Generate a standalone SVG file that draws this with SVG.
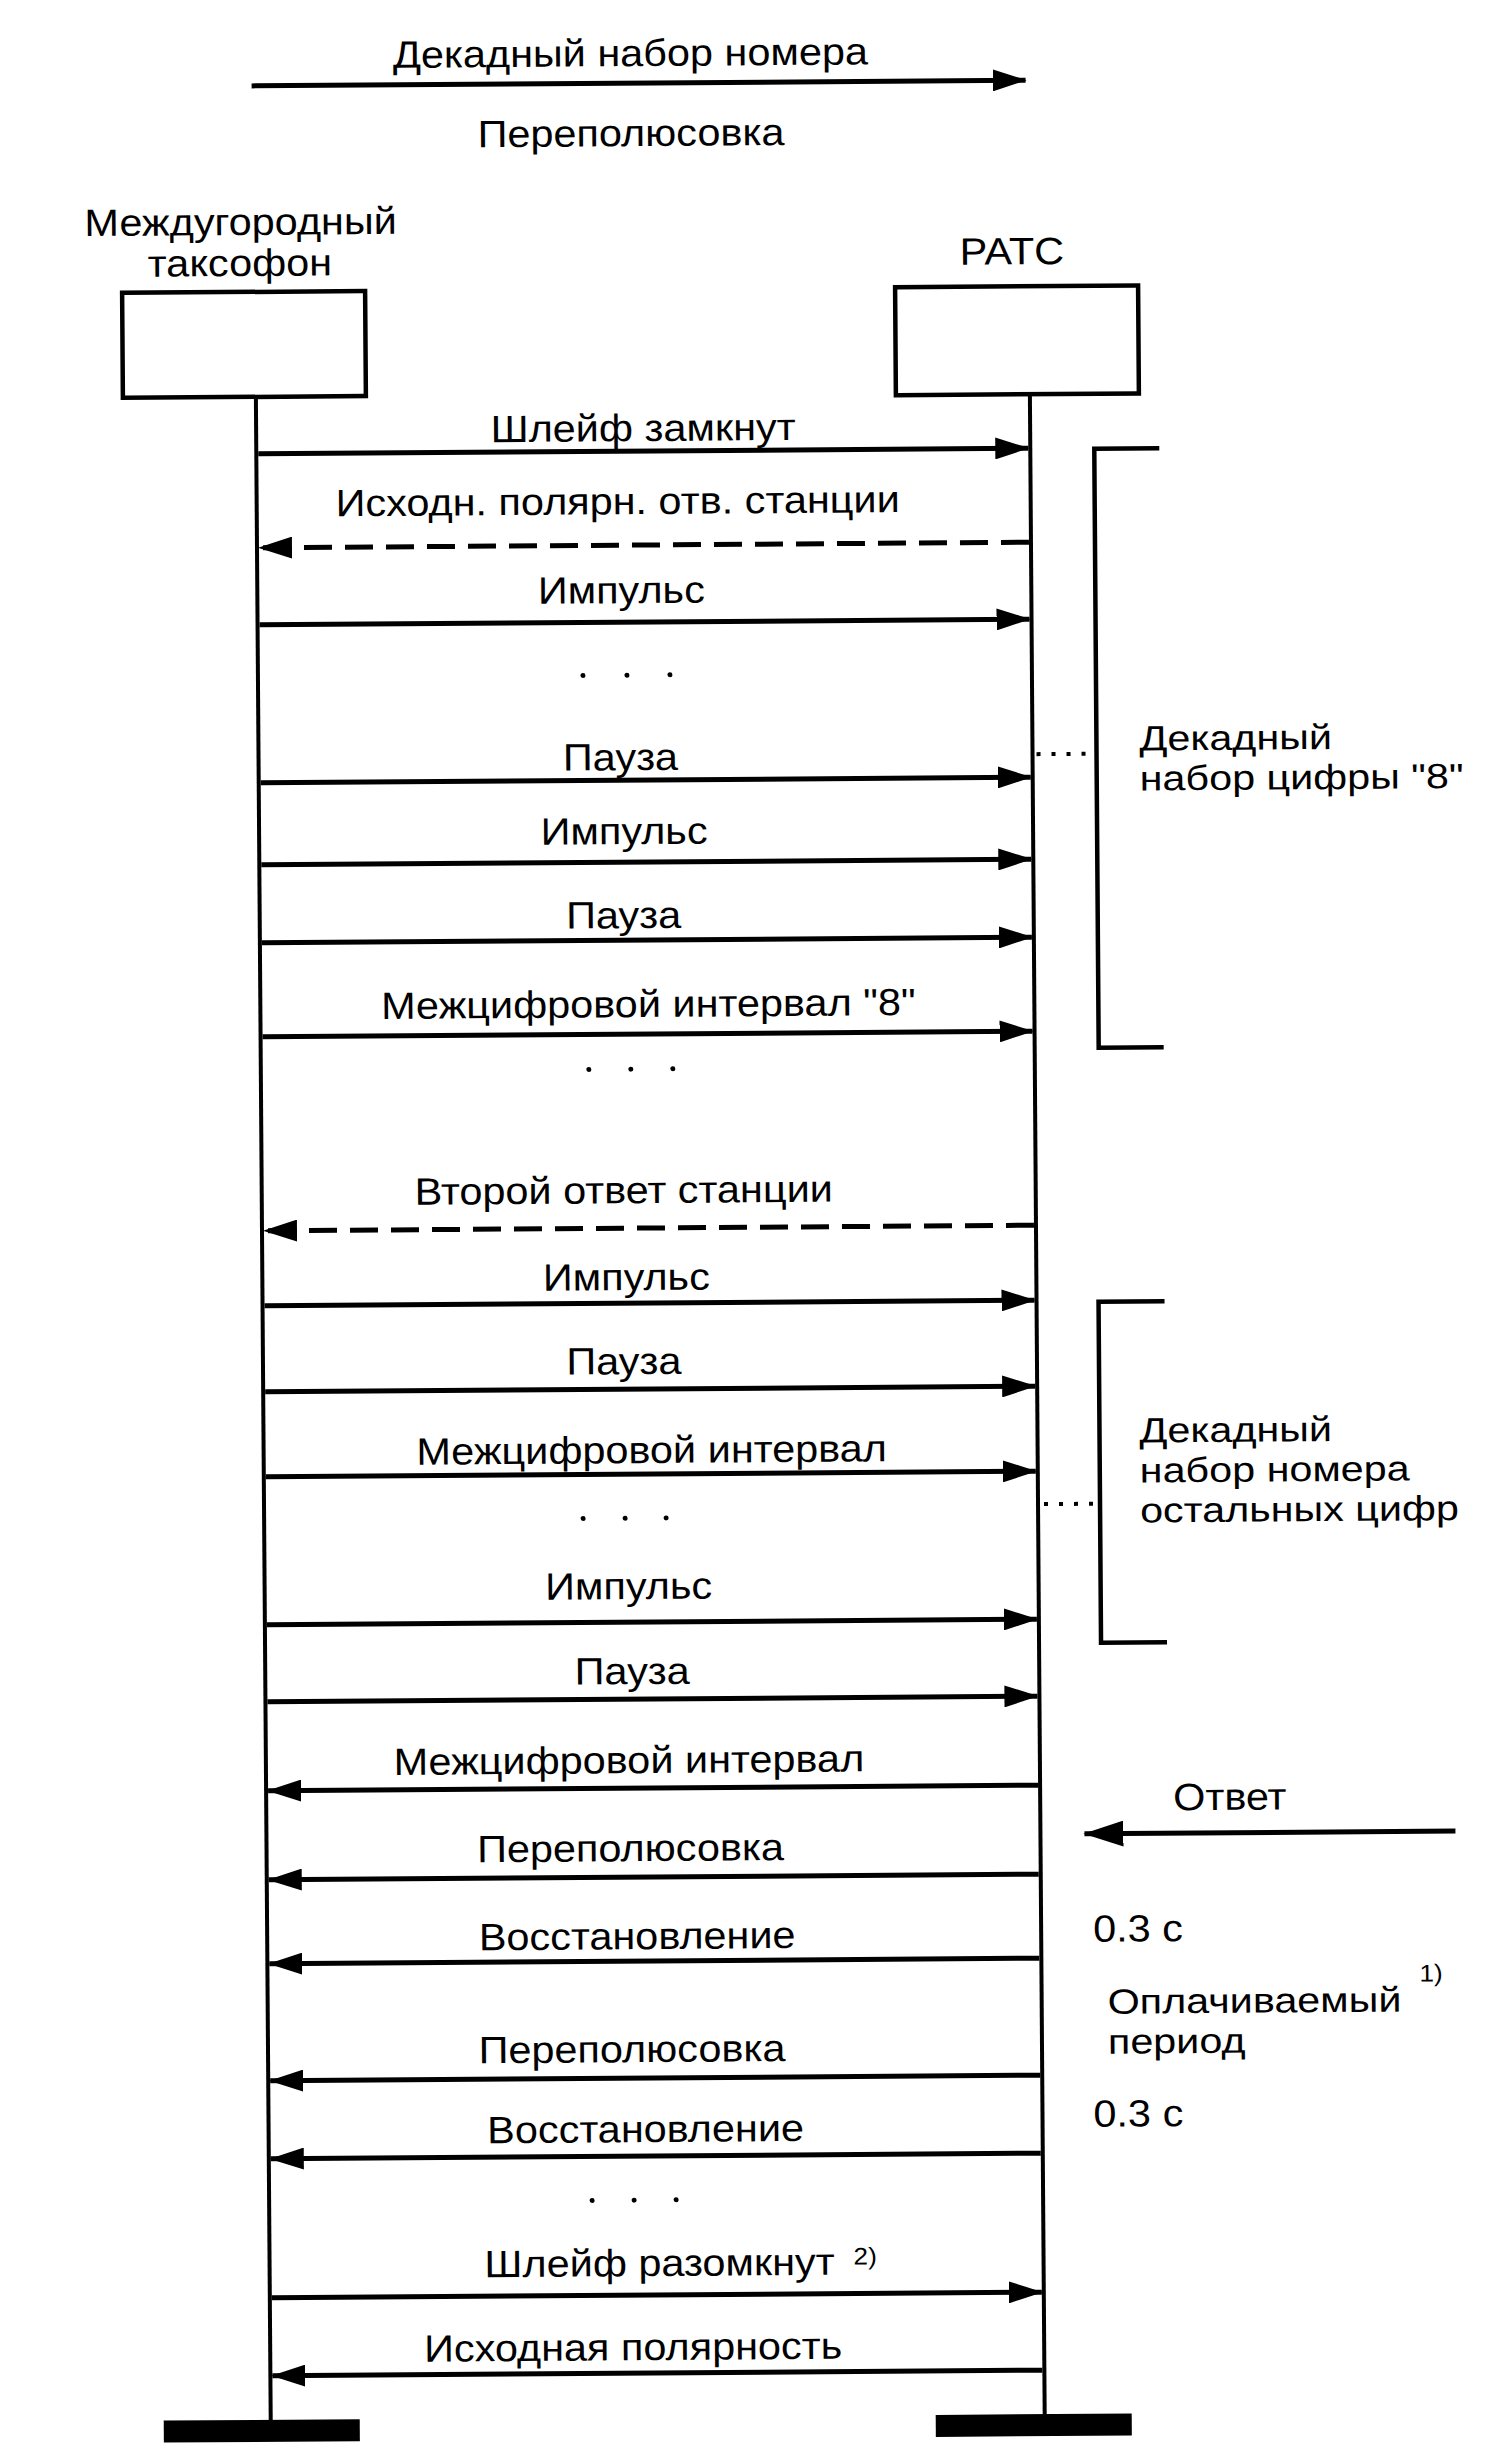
<svg xmlns="http://www.w3.org/2000/svg" width="1491" height="2458" viewBox="0 0 1491 2458">
<style>
text{font-family:"Liberation Sans",Arial,Helvetica,sans-serif;font-size:38px;fill:#000}
.c{text-anchor:middle}
.s{text-anchor:start}
.sup{font-size:24px}
.ml{font-size:35px}
.box{fill:#fff;stroke:#000;stroke-width:4.5}
.life{stroke:#000;stroke-width:4;fill:none}
.msg{stroke:#000;stroke-width:5;fill:none;marker-end:url(#ah)}
.dash{stroke-dasharray:28 13}
.big{marker-end:url(#ah2)}
.br{stroke:#000;stroke-width:4.5;fill:none}
.dot{stroke:#000;stroke-width:4;stroke-dasharray:4 11;fill:none}
.bar{fill:#000}
.pt{fill:#000}
</style>
<defs>
<marker id="ah" markerUnits="userSpaceOnUse" viewBox="0 0 34 22" refX="33" refY="11" markerWidth="34" markerHeight="22" orient="auto"><path d="M0,0 L34,11 L0,22 Z" fill="#000"/></marker>
<marker id="ah2" markerUnits="userSpaceOnUse" viewBox="0 0 40 26" refX="39" refY="13" markerWidth="40" markerHeight="26" orient="auto"><path d="M0,0 L40,13 L0,26 Z" fill="#000"/></marker>
</defs>
<rect width="1491" height="2458" fill="#fff"/>
<g transform="rotate(-0.42 650 1230)">

<g id="legend">
<text class="c" transform="translate(639 66) scale(1.09 1)">Декадный набор номера</text>
<line class="msg" x1="260" y1="83" x2="1034" y2="83"/>
<text class="c" transform="translate(639 146) scale(1.09 1)">Переполюсовка</text>
</g>

<g id="node-taxofon">
<text class="c" transform="translate(248 232) scale(1.09 1)">Междугородный</text>
<text class="c" transform="translate(247 273) scale(1.09 1)">таксофон</text>
<rect class="box" x="129" y="289" width="243" height="105"/>
<line class="life" x1="262" y1="394" x2="262" y2="2418"/>
<rect class="bar" x="155" y="2417" width="196" height="22"/>
</g>

<g id="node-ratc">
<text class="c" transform="translate(1019 267) scale(1.09 1)">РАТС</text>
<rect class="box" x="902" y="289" width="243" height="108"/>
<line class="life" x1="1036" y1="397" x2="1036" y2="2418"/>
<rect class="bar" x="927" y="2417" width="196" height="22"/>
</g>

<g id="connectors">
<line class="msg" x1="264" y1="451" x2="1034" y2="451"/>
<line class="msg dash" x1="1034" y1="545" x2="264" y2="545"/>
<line class="msg" x1="264" y1="622" x2="1034" y2="622"/>
<line class="msg" x1="264" y1="780" x2="1034" y2="780"/>
<line class="msg" x1="264" y1="862" x2="1034" y2="862"/>
<line class="msg" x1="264" y1="940" x2="1034" y2="940"/>
<line class="msg" x1="264" y1="1034" x2="1034" y2="1034"/>
<line class="msg dash" x1="1034" y1="1228" x2="264" y2="1228"/>
<line class="msg" x1="264" y1="1303" x2="1034" y2="1303"/>
<line class="msg" x1="264" y1="1389" x2="1034" y2="1389"/>
<line class="msg" x1="264" y1="1474" x2="1034" y2="1474"/>
<line class="msg" x1="264" y1="1622" x2="1034" y2="1622"/>
<line class="msg" x1="264" y1="1699" x2="1034" y2="1699"/>
<line class="msg" x1="1034" y1="1788" x2="264" y2="1788"/>
<line class="msg" x1="1034" y1="1877" x2="264" y2="1877"/>
<line class="msg" x1="1034" y1="1961" x2="264" y2="1961"/>
<line class="msg" x1="1034" y1="2078" x2="264" y2="2078"/>
<line class="msg" x1="1034" y1="2156" x2="264" y2="2156"/>
<line class="msg" x1="264" y1="2295" x2="1034" y2="2295"/>
<line class="msg" x1="1034" y1="2373" x2="264" y2="2373"/>
<line class="msg big" x1="1451" y1="1837" x2="1080" y2="1837"/>
</g>

<g id="labels">
<text class="c" transform="translate(649 441) scale(1.09 1)">Шлейф замкнут</text>
<text class="c" transform="translate(623 514) scale(1.09 1)">Исходн. полярн. отв. станции</text>
<text class="c" transform="translate(626 603) scale(1.09 1)">Импульс</text>
<text class="c" transform="translate(624 770) scale(1.09 1)">Пауза</text>
<text class="c" transform="translate(627 844) scale(1.09 1)">Импульс</text>
<text class="c" transform="translate(626 928) scale(1.09 1)">Пауза</text>
<text class="c" transform="translate(650 1017) scale(1.09 1)">Межцифровой интервал "8"</text>
<text class="c" transform="translate(624 1203) scale(1.09 1)">Второй ответ станции</text>
<text class="c" transform="translate(626 1290) scale(1.09 1)">Импульс</text>
<text class="c" transform="translate(623 1374) scale(1.09 1)">Пауза</text>
<text class="c" transform="translate(650 1463) scale(1.09 1)">Межцифровой интервал</text>
<text class="c" transform="translate(626 1599) scale(1.09 1)">Импульс</text>
<text class="c" transform="translate(629 1684) scale(1.09 1)">Пауза</text>
<text class="c" transform="translate(625 1773) scale(1.09 1)">Межцифровой интервал</text>
<text class="c" transform="translate(626 1861) scale(1.09 1)">Переполюсовка</text>
<text class="c" transform="translate(632 1949) scale(1.09 1)">Восстановление</text>
<text class="c" transform="translate(626 2062) scale(1.09 1)">Переполюсовка</text>
<text class="c" transform="translate(639 2142) scale(1.09 1)">Восстановление</text>
<text class="c" transform="translate(652 2276) scale(1.09 1)">Шлейф разомкнут</text>
<text class="s sup" transform="translate(846 2266) scale(1.09 1)">2)</text>
<text class="c" transform="translate(625 2360) scale(1.09 1)">Исходная полярность</text>
</g>

<g id="ellipses">
<circle class="pt" cx="587" cy="675" r="2.5"/><circle class="pt" cx="631" cy="675" r="2.5"/><circle class="pt" cx="674" cy="675" r="2.5"/>
<circle class="pt" cx="590" cy="1069" r="2.5"/><circle class="pt" cx="632" cy="1069" r="2.5"/><circle class="pt" cx="674" cy="1069" r="2.5"/>
<circle class="pt" cx="581" cy="1518" r="2.5"/><circle class="pt" cx="623" cy="1518" r="2.5"/><circle class="pt" cx="664" cy="1518" r="2.5"/>
<circle class="pt" cx="585" cy="2200" r="2.5"/><circle class="pt" cx="627" cy="2200" r="2.5"/><circle class="pt" cx="669" cy="2200" r="2.5"/>
</g>

<g id="bracket-digit8">
<path class="br" d="M1165,452 H1100 V1051 H1165"/>
<line class="dot" x1="1040" y1="757" x2="1098" y2="757"/>
<text class="s ml" transform="translate(1143 754) scale(1.18 1)">Декадный</text>
<text class="s ml" transform="translate(1143 794) scale(1.18 1)">набор цифры "8"</text>
</g>

<g id="bracket-rest">
<path class="br" d="M1164,1305 H1098 V1646 H1164"/>
<line class="dot" x1="1042" y1="1507" x2="1096" y2="1507"/>
<text class="s ml" transform="translate(1138 1446) scale(1.18 1)">Декадный</text>
<text class="s ml" transform="translate(1138 1486) scale(1.18 1)">набор номера</text>
<text class="s ml" transform="translate(1138 1526) scale(1.18 1)">остальных цифр</text>
</g>

<g id="answer-notes">
<text class="s" transform="translate(1169 1814) scale(1.09 1)">Ответ</text>
<text class="s" transform="translate(1088 1945) scale(1.09 1)">0.3 с</text>
<text class="s sup" transform="translate(1414 1987) scale(1.09 1)">1)</text>
<text class="s ml" transform="translate(1102 2017) scale(1.18 1)">Оплачиваемый</text>
<text class="s ml" transform="translate(1102 2057) scale(1.18 1)">период</text>
<text class="s" transform="translate(1087 2130) scale(1.09 1)">0.3 с</text>
</g>

</g>
</svg>
